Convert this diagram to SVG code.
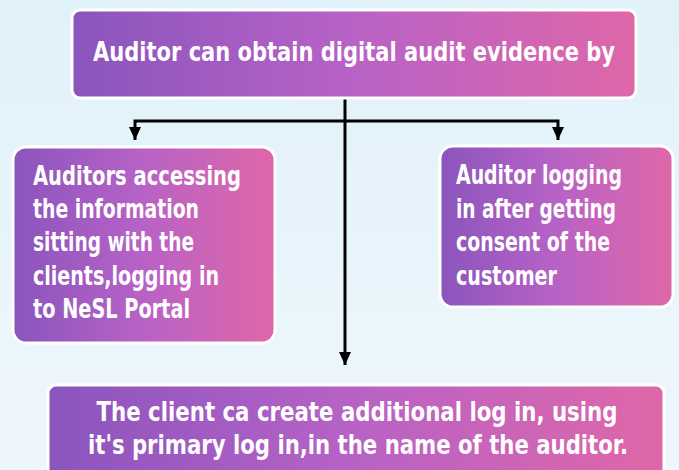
<svg xmlns="http://www.w3.org/2000/svg" width="679" height="470" viewBox="0 0 679 470">
  <defs>
    <linearGradient id="bg" x1="0" y1="0" x2="0" y2="1">
      <stop offset="0" stop-color="#e1f1fa"/>
      <stop offset="1" stop-color="#eff7fd"/>
    </linearGradient>
    <linearGradient id="box" x1="0" y1="0" x2="1" y2="0">
      <stop offset="0" stop-color="#8a55bd"/>
      <stop offset="0.5" stop-color="#b862c6"/>
      <stop offset="1" stop-color="#df67a8"/>
    </linearGradient>
    <marker id="arr" markerUnits="userSpaceOnUse" markerWidth="14" markerHeight="13" refX="13" refY="6" orient="auto">
      <path d="M0,0 L13,6 L0,12 z" fill="#000"/>
    </marker>
    <style>
      .box { fill: url(#box); stroke: #ffffff; stroke-width: 3; }
      .t { fill: #ffffff; font-family: "Liberation Sans Narrow", "DejaVu Sans Condensed", "Liberation Sans", sans-serif; font-weight: bold; font-stretch: condensed; font-size: 27px; }
      .c { text-anchor: middle; }
      .conn { fill: none; stroke: #000; stroke-width: 3; }
    </style>
  </defs>
  <rect x="0" y="0" width="679" height="470" fill="url(#bg)"/>

  <g id="connectors">
    <path class="conn" d="M345,98 V365" marker-end="url(#arr)"/>
    <path class="conn" d="M345,121 H135 V140" marker-end="url(#arr)"/>
    <path class="conn" d="M345,121 H558 V140" marker-end="url(#arr)"/>
  </g>

  <g id="node-top">
    <rect class="box" x="72" y="10" width="564" height="88" rx="8"/>
    <text class="t" x="93" y="61" textLength="522" lengthAdjust="spacingAndGlyphs">Auditor can obtain digital audit evidence by</text>
  </g>

  <g id="node-left">
    <rect class="box" x="13" y="147" width="262" height="196" rx="13"/>
    <text class="t" x="33" y="185" textLength="208" lengthAdjust="spacingAndGlyphs">Auditors accessing</text>
    <text class="t" x="33" y="218" textLength="166" lengthAdjust="spacingAndGlyphs">the information</text>
    <text class="t" x="33" y="251" textLength="161" lengthAdjust="spacingAndGlyphs">sitting with the</text>
    <text class="t" x="33" y="285" textLength="186" lengthAdjust="spacingAndGlyphs">clients,logging in</text>
    <text class="t" x="33" y="318" textLength="157" lengthAdjust="spacingAndGlyphs">to NeSL Portal</text>
  </g>

  <g id="node-right">
    <rect class="box" x="440" y="146" width="233" height="161" rx="13"/>
    <text class="t" x="456" y="184" textLength="166" lengthAdjust="spacingAndGlyphs">Auditor logging</text>
    <text class="t" x="456" y="218" textLength="160" lengthAdjust="spacingAndGlyphs">in after getting</text>
    <text class="t" x="456" y="251" textLength="154" lengthAdjust="spacingAndGlyphs">consent of the</text>
    <text class="t" x="456" y="285" textLength="101" lengthAdjust="spacingAndGlyphs">customer</text>
  </g>

  <g id="node-bottom">
    <rect class="box" x="48" y="385" width="616" height="100" rx="8"/>
    <text class="t c" x="357" y="421" textLength="521" lengthAdjust="spacingAndGlyphs">The client ca create additional log in, using</text>
    <text class="t c" x="358" y="454" textLength="540" lengthAdjust="spacingAndGlyphs">it's primary log in,in the name of the auditor.</text>
  </g>
</svg>
